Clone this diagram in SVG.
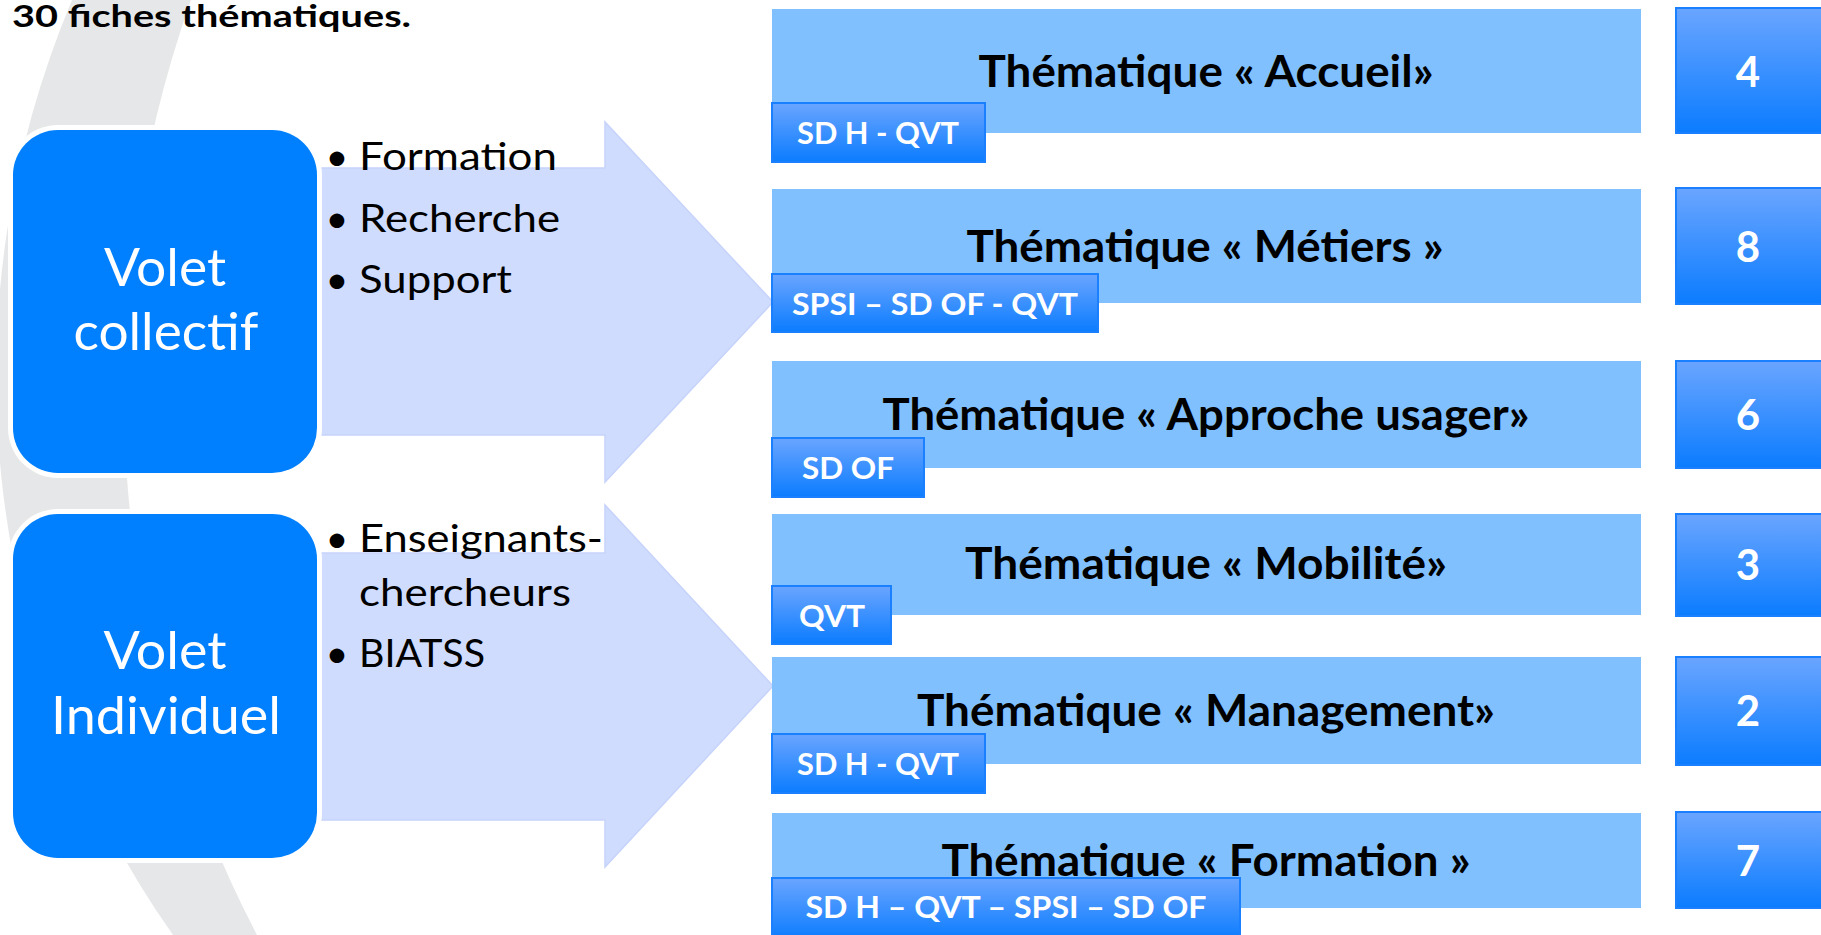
<svg xmlns="http://www.w3.org/2000/svg" width="1821" height="935" viewBox="0 0 1821 935">
<defs>
<linearGradient id="gb" x1="0" y1="0" x2="0" y2="1"><stop offset="0" stop-color="#6aa5ff"/><stop offset="1" stop-color="#0b7cff"/></linearGradient>
</defs>
<style>
.t{font-family:Lato,'Open Sans','Liberation Sans',sans-serif}
.ttl{font-size:31px;font-weight:700;fill:#000}
.th{font-size:43px;font-weight:700;fill:#000}
.tg{font-size:31px;font-weight:700;fill:#fff}
.nb{font-size:42px;font-weight:700;fill:#fff}
.bl{font-size:39.5px;fill:#000}
.vl{font-size:52.5px;fill:#fff}
.bar{fill:#80c0ff}
.tag{fill:url(#gb);stroke:#1a80ff;stroke-width:2}
.num{fill:url(#gb);stroke:#1a80ff;stroke-width:2}
.arrow{fill:#d0dcfd;stroke:#c6d3fb;stroke-width:1.5}
.vbox{fill:#0080ff}
.vout{fill:#fff}
</style>
<rect width="1821" height="935" fill="#fff"/>
<path id="band" d="M72,0 A971,971 0 0 0 173,935 L257,935 A1175,1175 0 0 1 191,0 Z" fill="#e6e7e8"/>
<text id="title" class="t ttl" x="12" y="27" textLength="399" lengthAdjust="spacingAndGlyphs">30 fiches thématiques.</text>
<g id="connectors">
<path class="arrow" d="M300,168 L605,168 L605,122 L773,302 L605,482 L605,435 L300,435 Z"/>
<path class="arrow" d="M300,553 L605,553 L605,505 L773,686 L605,867 L605,820 L300,820 Z"/>
</g>
<g id="volet-collectif">
<rect class="vout" x="8" y="125" width="314" height="353" rx="50"/>
<rect class="vbox" x="13" y="130" width="304" height="343" rx="45"/>
<text class="t vl" x="165" y="286" text-anchor="middle" textLength="122" lengthAdjust="spacingAndGlyphs">Volet</text>
<text class="t vl" x="166" y="350" text-anchor="middle" textLength="185" lengthAdjust="spacingAndGlyphs">collectif</text>
</g>
<g id="volet-individuel">
<rect class="vout" x="8" y="509" width="314" height="354" rx="50"/>
<rect class="vbox" x="13" y="514" width="304" height="344" rx="45"/>
<text class="t vl" x="165" y="669" text-anchor="middle" textLength="123" lengthAdjust="spacingAndGlyphs">Volet</text>
<text class="t vl" x="166" y="734" text-anchor="middle" textLength="230" lengthAdjust="spacingAndGlyphs">Individuel</text>
</g>
<g id="liste-collectif">
<text class="t bl" x="337" y="170" text-anchor="middle">•</text>
<text class="t bl" x="359" y="170" textLength="198" lengthAdjust="spacingAndGlyphs">Formation</text>
<text class="t bl" x="337" y="232" text-anchor="middle">•</text>
<text class="t bl" x="359" y="232" textLength="201" lengthAdjust="spacingAndGlyphs">Recherche</text>
<text class="t bl" x="337" y="293" text-anchor="middle">•</text>
<text class="t bl" x="359" y="293" textLength="153" lengthAdjust="spacingAndGlyphs">Support</text>
</g>
<g id="liste-individuel">
<text class="t bl" x="337" y="552" text-anchor="middle">•</text>
<text class="t bl" x="359" y="552" textLength="244" lengthAdjust="spacingAndGlyphs">Enseignants-</text>
<text class="t bl" x="359" y="606" textLength="212" lengthAdjust="spacingAndGlyphs">chercheurs</text>
<text class="t bl" x="337" y="667" text-anchor="middle">•</text>
<text class="t bl" x="359" y="667" textLength="126" lengthAdjust="spacingAndGlyphs">BIATSS</text>
</g>
<g id="theme-accueil">
<rect class="bar" x="772" y="9" width="869" height="124"/>
<text class="t th" x="1206" y="87" text-anchor="middle" textLength="455" lengthAdjust="spacingAndGlyphs">Thématique « Accueil»</text>
<rect class="tag" x="772" y="103" width="213" height="59"/>
<text class="t tg" x="878" y="144" text-anchor="middle" textLength="162" lengthAdjust="spacingAndGlyphs">SD H - QVT</text>
<rect class="num" x="1676" y="8" width="150" height="125"/>
<text class="t nb" x="1748" y="87" text-anchor="middle">4</text>
</g>
<g id="theme-metiers">
<rect class="bar" x="772" y="189" width="869" height="114"/>
<text class="t th" x="1205" y="262" text-anchor="middle" textLength="477" lengthAdjust="spacingAndGlyphs">Thématique « Métiers »</text>
<rect class="tag" x="772" y="274" width="326" height="58"/>
<text class="t tg" x="935" y="315" text-anchor="middle" textLength="286" lengthAdjust="spacingAndGlyphs">SPSI – SD OF - QVT</text>
<rect class="num" x="1676" y="188" width="150" height="116"/>
<text class="t nb" x="1748" y="262" text-anchor="middle">8</text>
</g>
<g id="theme-approche-usager">
<rect class="bar" x="772" y="361" width="869" height="107"/>
<text class="t th" x="1206" y="430" text-anchor="middle" textLength="647" lengthAdjust="spacingAndGlyphs">Thématique « Approche usager»</text>
<rect class="tag" x="772" y="438" width="152" height="59"/>
<text class="t tg" x="848" y="479" text-anchor="middle" textLength="92" lengthAdjust="spacingAndGlyphs">SD OF</text>
<rect class="num" x="1676" y="361" width="150" height="107"/>
<text class="t nb" x="1748" y="430" text-anchor="middle">6</text>
</g>
<g id="theme-mobilite">
<rect class="bar" x="772" y="514" width="869" height="101"/>
<text class="t th" x="1206" y="579" text-anchor="middle" textLength="482" lengthAdjust="spacingAndGlyphs">Thématique « Mobilité»</text>
<rect class="tag" x="772" y="586" width="119" height="58"/>
<text class="t tg" x="832" y="627" text-anchor="middle" textLength="66" lengthAdjust="spacingAndGlyphs">QVT</text>
<rect class="num" x="1676" y="514" width="150" height="102"/>
<text class="t nb" x="1748" y="580" text-anchor="middle">3</text>
</g>
<g id="theme-management">
<rect class="bar" x="772" y="657" width="869" height="107"/>
<text class="t th" x="1206" y="726" text-anchor="middle" textLength="578" lengthAdjust="spacingAndGlyphs">Thématique « Management»</text>
<rect class="tag" x="772" y="734" width="213" height="59"/>
<text class="t tg" x="878" y="775" text-anchor="middle" textLength="162" lengthAdjust="spacingAndGlyphs">SD H - QVT</text>
<rect class="num" x="1676" y="657" width="150" height="108"/>
<text class="t nb" x="1748" y="726" text-anchor="middle">2</text>
</g>
<g id="theme-formation">
<rect class="bar" x="772" y="813" width="869" height="95"/>
<text class="t th" x="1206" y="876" text-anchor="middle" textLength="529" lengthAdjust="spacingAndGlyphs">Thématique « Formation »</text>
<rect class="tag" x="772" y="878" width="468" height="62"/>
<text class="t tg" x="1006" y="918" text-anchor="middle" textLength="401" lengthAdjust="spacingAndGlyphs">SD H – QVT – SPSI – SD OF</text>
<rect class="num" x="1676" y="812" width="150" height="96"/>
<text class="t nb" x="1748" y="876" text-anchor="middle">7</text>
</g>
</svg>
